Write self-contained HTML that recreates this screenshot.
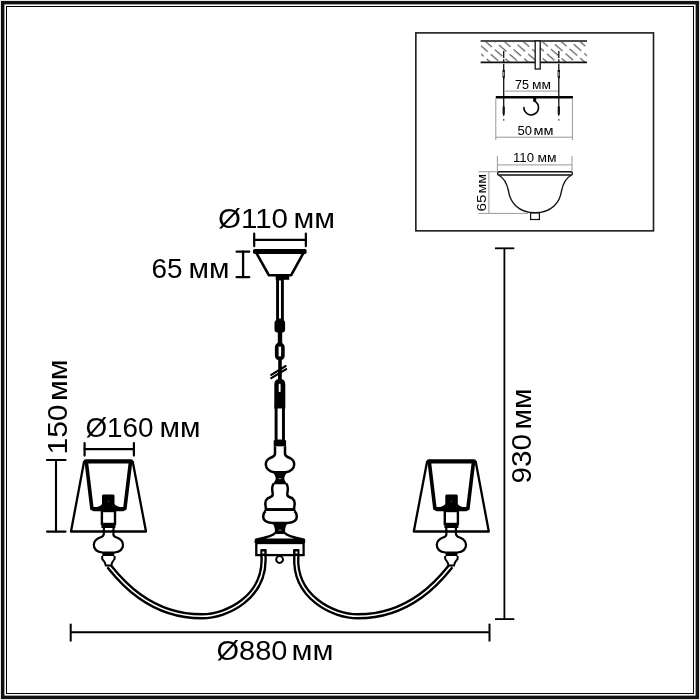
<!DOCTYPE html>
<html><head><meta charset="utf-8"><style>
html,body{margin:0;padding:0;background:#fff;}
svg{display:block;will-change:transform;}
text{font-family:"Liberation Sans",sans-serif;fill:#000;}
</style></head><body>
<svg width="700" height="700" viewBox="0 0 700 700">
<defs>
<pattern id="hatch" patternUnits="userSpaceOnUse" width="6.2" height="14" patternTransform="rotate(-49)">
<line x1="2" y1="0" x2="2" y2="14" stroke="#444" stroke-width="1.05" stroke-dasharray="10 4"/>
</pattern>
</defs>

<!-- outer frame -->
<rect x="0" y="0" width="700" height="700" fill="#fff"/>
<rect x="0.5" y="0.5" width="699" height="699" fill="none" stroke="#e4e4e4" stroke-width="1"/>
<rect x="2.7" y="2.7" width="694.6" height="694.6" fill="none" stroke="#111" stroke-width="3.4"/>
<rect x="6.5" y="6.5" width="687" height="687" fill="none" stroke="#000" stroke-width="1"/>

<!-- ============ INSET ============ -->
<rect x="415.85" y="32.9" width="237.65" height="197.95" fill="none" stroke="#1c1c1c" stroke-width="1.6"/>
<!-- slab hatch -->
<rect x="481" y="42" width="106" height="20" fill="url(#hatch)"/>
<line x1="480.6" y1="41" x2="587" y2="41" stroke="#111" stroke-width="1.6"/>
<line x1="480.6" y1="62.4" x2="587" y2="62.4" stroke="#111" stroke-width="1.6"/>
<!-- post -->
<rect x="535.2" y="41" width="5" height="28" fill="#fff" stroke="#111" stroke-width="1.3"/>
<!-- screws -->
<g stroke="#111" stroke-width="1.3">
<line x1="503.7" y1="51" x2="503.7" y2="123" stroke-dasharray="7 1.2 3.5 1 7 1.5 40"/>
<line x1="558.8" y1="51" x2="558.8" y2="123" stroke-dasharray="7 1.2 3.5 1 7 1.5 40"/>
</g>
<g fill="#111">
<path d="M502.5 70 L504.9 70 L504.9 77 L503.7 79.5 L502.5 77 Z"/>
<path d="M557.6 70 L560 70 L560 77 L558.8 79.5 L557.6 77 Z"/>
<path d="M502.6 106.5 L504.8 106.5 L504.8 114 L503.7 116.5 L502.6 114 Z"/>
<path d="M557.7 106.5 L559.9 106.5 L559.9 114 L558.8 116.5 L557.7 114 Z"/>
</g>
<g fill="#bbb">
<rect x="503.2" y="72" width="1" height="4"/>
<rect x="558.3" y="72" width="1" height="4"/>
</g>
<!-- 75 dim -->
<line x1="505" y1="91.1" x2="558" y2="91.1" stroke="#999" stroke-width="1"/>
<!-- plate -->
<line x1="495.8" y1="97.3" x2="573" y2="97.3" stroke="#000" stroke-width="2.6"/>
<!-- hook -->
<rect x="533.2" y="98" width="3" height="3.8" fill="#000"/>
<path d="M535.4 101.6 A7.3 7.3 0 1 1 523.9 107.6" fill="none" stroke="#000" stroke-width="1.6" stroke-linecap="round"/>
<!-- 50 dim -->
<g stroke="#999" stroke-width="1">
<line x1="495.8" y1="98.5" x2="495.8" y2="140"/>
<line x1="572.4" y1="98.5" x2="572.4" y2="140"/>
<line x1="495.8" y1="137.2" x2="572.4" y2="137.2"/>
</g>
<!-- 110 dim -->
<g stroke="#999" stroke-width="1">
<line x1="497.4" y1="156" x2="497.4" y2="171"/>
<line x1="572" y1="156" x2="572" y2="171"/>
<line x1="497.4" y1="164.9" x2="572" y2="164.9"/>
</g>
<!-- canopy inset -->
<path d="M498.5 175 C504 178 507 183 508.5 191 C510 202 518 212.5 535 212.8 C552 212.5 560 202 561.5 191 C563 183 566 178 571.5 175" fill="#fff" stroke="#111" stroke-width="1.4"/>
<rect x="497.6" y="171.8" width="74.8" height="3.2" rx="1.6" fill="#fff" stroke="#111" stroke-width="1.4"/>
<rect x="530.6" y="213" width="8.8" height="6.5" fill="#fff" stroke="#111" stroke-width="1.2"/>
<!-- 65 dim inset -->
<g stroke="#999" stroke-width="1">
<line x1="478.6" y1="171.7" x2="497" y2="171.7"/>
<line x1="478.6" y1="213.4" x2="528" y2="213.4"/>
<line x1="488.9" y1="171.7" x2="488.9" y2="213.4"/>
</g>

<!-- ============ MAIN ============ -->
<!-- Ø110 dim -->
<g stroke="#000" stroke-width="2.2" stroke-linecap="round">
<line x1="254.2" y1="239.9" x2="305.85" y2="239.9"/>
<line x1="254.2" y1="233.6" x2="254.2" y2="246.2"/>
<line x1="305.85" y1="233.6" x2="305.85" y2="246.2"/>
</g>
<!-- 65 dim -->
<g stroke="#000" stroke-width="2.3" stroke-linecap="round">
<line x1="243.1" y1="251.7" x2="243.1" y2="277.2"/>
<line x1="236.6" y1="251.7" x2="249.2" y2="251.7"/>
<line x1="236.6" y1="277.2" x2="249.2" y2="277.2"/>
</g>

<!-- canopy -->
<path d="M256.4 253 L268.8 275.2 L291.2 275.2 L303.4 253" fill="#fff" stroke="#000" stroke-width="2.6" stroke-linejoin="round"/>
<rect x="253" y="249.1" width="53.6" height="4.8" rx="1.6" fill="#000"/>
<rect x="275.7" y="275.5" width="13.5" height="4.3" fill="#000"/>
<!-- upper rod -->
<rect x="277.55" y="279" width="4.85" height="41" fill="#fff" stroke="#000" stroke-width="2.9"/>
<!-- link 1 -->
<rect x="274.5" y="320" width="10.6" height="12.5" rx="3" fill="#000"/>
<rect x="277.8" y="331" width="4.4" height="12" fill="#000"/>
<!-- link 2 -->
<rect x="274.9" y="342.6" width="9.8" height="17.7" rx="4.5" fill="#000"/>
<rect x="278.6" y="346.6" width="2.5" height="9.7" fill="#fff"/>
<rect x="278.2" y="359" width="3.6" height="13.5" fill="#000"/>
<!-- break slashes -->
<line x1="271.2" y1="374.9" x2="285.7" y2="366" stroke="#000" stroke-width="2.1" stroke-linecap="round"/>
<line x1="271.2" y1="378.1" x2="286.2" y2="369.1" stroke="#000" stroke-width="2.1" stroke-linecap="round"/>
<rect x="278" y="371" width="3.8" height="10" fill="#000"/>
<!-- link 3 -->
<path d="M274.3 408.6 L274.3 384.5 Q274.3 379.1 279.8 379.1 Q285.3 379.1 285.3 384.5 L285.3 408.6 Z" fill="#000"/>
<rect x="278.7" y="383.8" width="1.9" height="8.3" rx="0.9" fill="#fff"/>
<!-- lower rod -->
<rect x="276.1" y="407" width="7.35" height="34" fill="#fff" stroke="#000" stroke-width="2.95"/>
<!-- collar -->
<rect x="273.7" y="440.3" width="12.4" height="6.4" fill="#000"/>
<!-- bulb 1 -->
<path d="M275 446.5 L275 454 C275 456.5 272 457 269.5 458.3 C267 459.8 265.8 461.8 265.8 464.5 C265.8 468.5 269.5 471.6 274 472.3 L286 472.3 C290.5 471.6 294.2 468.5 294.2 464.5 C294.2 461.8 293 459.8 290.5 458.3 C288 457 285 456.5 285 454 L285 446.5" fill="#fff" stroke="#000" stroke-width="2.5"/>
<!-- pawn bulb -->
<path d="M273.8 483.5 C272.2 485.5 272 487.5 272.2 489.5 C272.4 492.5 273.2 494.3 272.4 495.8 C271.5 497.2 268.8 497.5 267.3 498.7 C265.8 499.8 265.3 501.5 265.3 503.5 C265.3 505.5 265.8 507.5 266.3 509.6 L293.7 509.6 C294.2 507.5 294.7 505.5 294.7 503.5 C294.7 501.5 294.2 499.8 292.5 498.5 C291.2 497.5 288.5 497.2 287.6 495.8 C286.8 494.3 287.6 492.5 287.8 489.5 C288 487.5 287.8 485.5 286.2 483.5" fill="#fff" stroke="#000" stroke-width="2.5"/>
<!-- hourglass 1 -->
<path d="M272.6 472 L287.4 472 C285 475 284.3 477 284.3 478.6 C284.3 480.2 285.5 482 287.4 484.2 L272.6 484.2 C274.5 482 275.7 480.2 275.7 478.6 C275.7 477 275 475 272.6 472 Z" fill="#000"/>
<rect x="278.5" y="478.2" width="3" height="0.9" fill="#999"/>
<rect x="264.6" y="508.3" width="30.8" height="3.1" fill="#000"/>
<!-- lower disc -->
<path d="M265.5 511 C263.8 512.5 263.2 514.5 263.2 516.8 C263.2 520 266.5 522.5 272.5 523 L287.5 523 C293.5 522.5 296.8 520 296.8 516.8 C296.8 514.5 296.2 512.5 294.5 511" fill="#fff" stroke="#000" stroke-width="2.5"/>
<!-- flare -->
<path d="M275.2 533 C273 536 265 537.8 256 539.7 L304 539.7 C295 537.8 287 536 284.8 533" fill="#fff" stroke="#000" stroke-width="2.4" stroke-linejoin="round"/>
<!-- hourglass 2 -->
<path d="M272.3 522.6 L287.7 522.6 C286 525.8 285.1 528 285.1 530 C285.1 531.6 285.6 532.8 286.4 534 L273.6 534 C274.4 532.8 274.9 531.6 274.9 530 C274.9 528 274 525.8 272.3 522.6 Z" fill="#000"/>
<rect x="278.5" y="529.7" width="3" height="0.9" fill="#999"/>
<!-- base bar -->
<line x1="256.6" y1="541.5" x2="303.2" y2="541.5" stroke="#000" stroke-width="4.3" stroke-linecap="round"/>
<!-- box -->
<rect x="256.3" y="543" width="47.3" height="12.1" fill="#fff" stroke="#000" stroke-width="2.3"/>
<!-- hook circle -->
<circle cx="279.6" cy="559.5" r="3.4" fill="#fff" stroke="#000" stroke-width="2"/>

<!-- arms -->
<path id="armL" d="M263.5 555 L263.5 556 C265.9 597.2 226.9 616.3 201.8 616.3 C148 616.3 118.4 577.7 109 566" fill="none" stroke="#000" stroke-width="6.4"/>
<path d="M263.5 555 L263.5 556 C265.9 597.2 226.9 616.3 201.8 616.3 C148 616.3 118.4 577.7 109 566" fill="none" stroke="#fff" stroke-width="1.6"/>
<path d="M296.3 555 L296.3 556 C293.9 597.2 332.9 616.3 358 616.3 C411.8 616.3 441.4 577.7 450.8 566" fill="none" stroke="#000" stroke-width="6.4"/>
<path d="M296.3 555 L296.3 556 C293.9 597.2 332.9 616.3 358 616.3 C411.8 616.3 441.4 577.7 450.8 566" fill="none" stroke="#fff" stroke-width="1.6"/>
<!-- bolts -->
<rect x="260.3" y="549.1" width="6.4" height="7" rx="0.8" fill="#000"/>
<rect x="262.3" y="551.5" width="2" height="2" fill="#fff"/>
<rect x="293.1" y="549.1" width="6.4" height="7" rx="0.8" fill="#000"/>
<rect x="295.5" y="551.5" width="2" height="2" fill="#fff"/>

<!-- lamps -->
<g>
<!-- shade outer -->
<path d="M84.2 461 L71 531.5 L146 531.5 L132.6 461" fill="none" stroke="#000" stroke-width="2.3" stroke-linejoin="round"/>
<!-- top bar -->
<line x1="85.8" y1="461.45" x2="131" y2="461.45" stroke="#000" stroke-width="4.3" stroke-linecap="round"/>
<!-- inner frame -->
<path d="M86.3 462 L91.9 508.5 M130.5 462 L124.9 508.5" fill="none" stroke="#000" stroke-width="3.6" stroke-linecap="round"/>
<path d="M91.4 507 L125.4 507 L125.2 509.5 Q124.8 511.2 123 511.2 L93.8 511.2 Q92 511.2 91.6 509.5 Z" fill="#000"/>
<!-- socket top -->
<path d="M102 505 L102 496 Q102 494.6 103.5 494.6 L113 494.6 Q114.5 494.6 114.5 496 L114.5 504 C115.5 506 119 507 122 507.5 L95 507.5 C98 507 101 506 102 504 Z" fill="#000"/>
<circle cx="108.4" cy="501.3" r="0.5" fill="#999"/>
<!-- socket cup -->
<rect x="101.9" y="511" width="13.1" height="13" fill="#fff" stroke="#000" stroke-width="2.4"/>
<rect x="101.4" y="523.4" width="14" height="4.6" fill="#000"/>
<!-- neck -->
<path d="M103.9 528 L103.9 533 M113.5 528 L113.5 533" stroke="#000" stroke-width="2.2"/>
<!-- bulb -->
<path d="M103.9 533 Q104 536.5 100 537.5 Q93.8 540 93.8 545 Q93.8 551.5 102.5 552.5 L114.3 552.5 Q123 551.5 123 545 Q123 540 116.8 537.5 Q112.8 536.5 113.5 533" fill="#fff" stroke="#000" stroke-width="2.2"/>
<rect x="102.3" y="552" width="12" height="4.2" fill="#000"/>
<!-- lower cup -->
<path d="M102.2 556 L102.2 559 Q103.5 560.5 104.8 562.5 L105.8 565.5 L111.2 565.5 L112.2 562.5 Q113.4 560.5 114.6 559 L114.6 556" fill="#fff" stroke="#000" stroke-width="2"/>
</g>
<g transform="translate(559.8,0) scale(-1,1)">
<!-- shade outer -->
<path d="M84.2 461 L71 531.5 L146 531.5 L132.6 461" fill="none" stroke="#000" stroke-width="2.3" stroke-linejoin="round"/>
<!-- top bar -->
<line x1="85.8" y1="461.45" x2="131" y2="461.45" stroke="#000" stroke-width="4.3" stroke-linecap="round"/>
<!-- inner frame -->
<path d="M86.3 462 L91.9 508.5 M130.5 462 L124.9 508.5" fill="none" stroke="#000" stroke-width="3.6" stroke-linecap="round"/>
<path d="M91.4 507 L125.4 507 L125.2 509.5 Q124.8 511.2 123 511.2 L93.8 511.2 Q92 511.2 91.6 509.5 Z" fill="#000"/>
<!-- socket top -->
<path d="M102 505 L102 496 Q102 494.6 103.5 494.6 L113 494.6 Q114.5 494.6 114.5 496 L114.5 504 C115.5 506 119 507 122 507.5 L95 507.5 C98 507 101 506 102 504 Z" fill="#000"/>
<circle cx="108.4" cy="501.3" r="0.5" fill="#999"/>
<!-- socket cup -->
<rect x="101.9" y="511" width="13.1" height="13" fill="#fff" stroke="#000" stroke-width="2.4"/>
<rect x="101.4" y="523.4" width="14" height="4.6" fill="#000"/>
<!-- neck -->
<path d="M103.9 528 L103.9 533 M113.5 528 L113.5 533" stroke="#000" stroke-width="2.2"/>
<!-- bulb -->
<path d="M103.9 533 Q104 536.5 100 537.5 Q93.8 540 93.8 545 Q93.8 551.5 102.5 552.5 L114.3 552.5 Q123 551.5 123 545 Q123 540 116.8 537.5 Q112.8 536.5 113.5 533" fill="#fff" stroke="#000" stroke-width="2.2"/>
<rect x="102.3" y="552" width="12" height="4.2" fill="#000"/>
<!-- lower cup -->
<path d="M102.2 556 L102.2 559 Q103.5 560.5 104.8 562.5 L105.8 565.5 L111.2 565.5 L112.2 562.5 Q113.4 560.5 114.6 559 L114.6 556" fill="#fff" stroke="#000" stroke-width="2"/>
</g>

<!-- Ø160 dim -->
<g stroke="#000" stroke-width="2.2" stroke-linecap="round">
<line x1="84.6" y1="449.2" x2="133.9" y2="449.2"/>
<line x1="84.6" y1="443" x2="84.6" y2="455.6"/>
<line x1="133.9" y1="443" x2="133.9" y2="455.6"/>
</g>
<!-- 150 dim -->
<g stroke="#000" stroke-width="2.1" stroke-linecap="round">
<line x1="56" y1="460" x2="56" y2="531.6"/>
<line x1="47" y1="460" x2="65.6" y2="460"/>
<line x1="47" y1="531.6" x2="65.6" y2="531.6"/>
</g>
<!-- 930 dim -->
<g stroke="#000" stroke-width="1.8">
<line x1="504.4" y1="248.3" x2="504.4" y2="619.1"/>
<line x1="495" y1="248.3" x2="514.3" y2="248.3"/>
<line x1="495" y1="619.1" x2="514.3" y2="619.1"/>
</g>
<!-- Ø880 dim -->
<g stroke="#000" stroke-width="2">
<line x1="70.7" y1="632.3" x2="489.5" y2="632.3"/>
<line x1="70.7" y1="623.7" x2="70.7" y2="641.5"/>
<line x1="489.5" y1="623.7" x2="489.5" y2="641.5"/>
</g>
<!--TEXT_START-->
<text x="218.00" y="228.0" font-size="28" textLength="70.00" lengthAdjust="spacingAndGlyphs">Ø110</text>
<text x="293.50" y="228.0" font-size="28" textLength="41.50" lengthAdjust="spacingAndGlyphs">мм</text>
<text x="151.50" y="278.4" font-size="28" textLength="31.00" lengthAdjust="spacingAndGlyphs">65</text>
<text x="188.50" y="278.4" font-size="28" textLength="41.00" lengthAdjust="spacingAndGlyphs">мм</text>
<text x="85.50" y="437.0" font-size="28" textLength="68.00" lengthAdjust="spacingAndGlyphs">Ø160</text>
<text x="159.50" y="437.0" font-size="28" textLength="41.00" lengthAdjust="spacingAndGlyphs">мм</text>
<text x="216.50" y="660.0" font-size="28" textLength="71.00" lengthAdjust="spacingAndGlyphs">Ø880</text>
<text x="291.50" y="660.0" font-size="28" textLength="42.00" lengthAdjust="spacingAndGlyphs">мм</text>
<text transform="translate(66.5,454.50) rotate(-90)" font-size="28" textLength="50.00" lengthAdjust="spacingAndGlyphs">150</text>
<text transform="translate(66.5,401.00) rotate(-90)" font-size="28" textLength="41.50" lengthAdjust="spacingAndGlyphs">мм</text>
<text transform="translate(530.6,483.50) rotate(-90)" font-size="28" textLength="49.50" lengthAdjust="spacingAndGlyphs">930</text>
<text transform="translate(530.6,429.50) rotate(-90)" font-size="28" textLength="41.00" lengthAdjust="spacingAndGlyphs">мм</text>
<text x="515.00" y="88.9" font-size="12.6" textLength="14.00" lengthAdjust="spacingAndGlyphs">75</text>
<text x="532.00" y="88.9" font-size="12.6" textLength="19.00" lengthAdjust="spacingAndGlyphs">мм</text>
<text x="517.50" y="134.9" font-size="12.6" textLength="14.50" lengthAdjust="spacingAndGlyphs">50</text>
<text x="533.50" y="134.9" font-size="12.6" textLength="20.00" lengthAdjust="spacingAndGlyphs">мм</text>
<text x="513.00" y="161.8" font-size="12.6" textLength="21.00" lengthAdjust="spacingAndGlyphs">110</text>
<text x="537.50" y="161.8" font-size="12.6" textLength="19.00" lengthAdjust="spacingAndGlyphs">мм</text>
<text transform="translate(485.8,211.50) rotate(-90)" font-size="12.6" textLength="17.00" lengthAdjust="spacingAndGlyphs">65</text>
<text transform="translate(485.8,193.50) rotate(-90)" font-size="12.6" textLength="19.50" lengthAdjust="spacingAndGlyphs">мм</text>
<!--TEXT_END-->
</svg>
</body></html>
